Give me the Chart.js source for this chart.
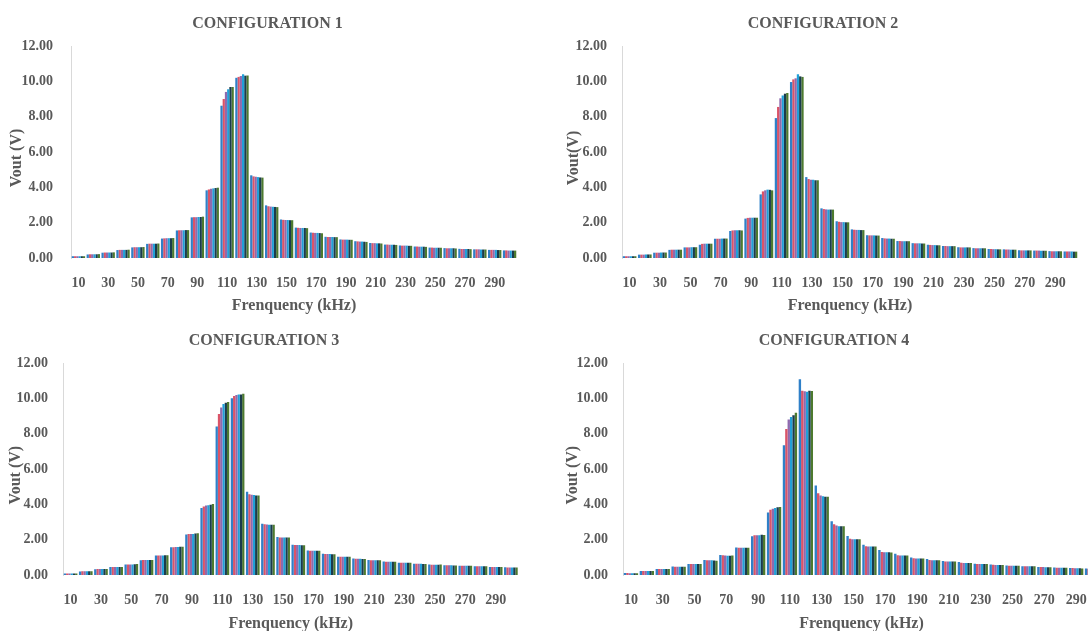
<!DOCTYPE html>
<html>
<head>
<meta charset="utf-8">
<script src="https://cdn.jsdelivr.net/npm/chart.js@4/dist/chart.umd.min.js"></script>
<style>
  html, body { margin: 0; padding: 0; background: #fff; overflow: hidden; width: 1088px; height: 631px; }
  canvas { position: absolute; }
</style>
</head>
<body>
<canvas id="conf1" width="534" height="318" style="left:0px;top:0px"></canvas>
<canvas id="conf2" width="558" height="318" style="left:544px;top:0px"></canvas>
<canvas id="conf3" width="528" height="320" style="left:0px;top:316px"></canvas>
<canvas id="conf4" width="580" height="320" style="left:544px;top:316px"></canvas>
<script>
// frequency categories (kHz)
const freqs = ['10', '20', '30', '40', '50', '60', '70', '80', '90', '100', '110', '120', '130', '140', '150',
  '160', '170', '180', '190', '200', '210', '220', '230', '240', '250', '260', '270', '280', '290', '300']
const yTicks = [0, 2, 4, 6, 8, 10, 12]
const seriesColors = ['#2F80C8', '#DA5468', '#8E6AAE', '#21A0D8', '#1B3B4C', '#4D7A2F']

// configuration 1
const c1s1 = [0.10, 0.20, 0.30, 0.45, 0.60, 0.80, 1.10, 1.56, 2.30, 3.83, 8.62, 10.20, 4.68, 2.98, 2.18, 1.72, 1.44, 1.20, 1.05, 0.95, 0.85, 0.76, 0.71, 0.65, 0.59, 0.56, 0.52, 0.49, 0.46, 0.43]
const c1s2 = [0.10, 0.21, 0.31, 0.46, 0.61, 0.81, 1.11, 1.57, 2.31, 3.88, 9.00, 10.25, 4.62, 2.93, 2.16, 1.71, 1.43, 1.19, 1.04, 0.94, 0.84, 0.76, 0.70, 0.65, 0.59, 0.55, 0.51, 0.49, 0.46, 0.43]
const c1s3 = [0.10, 0.21, 0.31, 0.46, 0.61, 0.81, 1.12, 1.57, 2.31, 3.92, 9.40, 10.30, 4.60, 2.91, 2.15, 1.70, 1.42, 1.19, 1.04, 0.93, 0.84, 0.75, 0.70, 0.64, 0.58, 0.55, 0.51, 0.49, 0.46, 0.42]
const c1s4 = [0.10, 0.21, 0.31, 0.46, 0.61, 0.81, 1.12, 1.57, 2.32, 3.94, 9.55, 10.40, 4.58, 2.90, 2.15, 1.70, 1.42, 1.19, 1.04, 0.93, 0.83, 0.75, 0.70, 0.64, 0.58, 0.55, 0.51, 0.48, 0.46, 0.42]
const c1s5 = [0.10, 0.21, 0.31, 0.46, 0.61, 0.81, 1.12, 1.58, 2.32, 3.96, 9.68, 10.32, 4.56, 2.89, 2.14, 1.70, 1.41, 1.18, 1.03, 0.92, 0.83, 0.75, 0.69, 0.64, 0.58, 0.55, 0.51, 0.48, 0.45, 0.42]
const c1s6 = [0.10, 0.22, 0.32, 0.47, 0.62, 0.82, 1.13, 1.58, 2.34, 3.98, 9.68, 10.33, 4.55, 2.88, 2.14, 1.69, 1.40, 1.18, 1.03, 0.91, 0.82, 0.74, 0.69, 0.63, 0.58, 0.54, 0.50, 0.48, 0.45, 0.42]

// configuration 2
const c2s1 = [0.10, 0.19, 0.30, 0.46, 0.60, 0.75, 1.09, 1.53, 2.23, 3.60, 7.92, 9.96, 4.58, 2.81, 2.08, 1.62, 1.29, 1.13, 0.96, 0.84, 0.75, 0.68, 0.61, 0.56, 0.51, 0.49, 0.44, 0.42, 0.39, 0.37]
const c2s2 = [0.10, 0.19, 0.30, 0.47, 0.60, 0.80, 1.09, 1.56, 2.27, 3.77, 8.55, 10.11, 4.47, 2.77, 2.05, 1.60, 1.28, 1.11, 0.96, 0.83, 0.74, 0.68, 0.60, 0.55, 0.51, 0.48, 0.43, 0.42, 0.38, 0.37]
const c2s3 = [0.10, 0.19, 0.30, 0.47, 0.60, 0.81, 1.09, 1.57, 2.28, 3.83, 9.04, 10.17, 4.43, 2.75, 2.03, 1.59, 1.28, 1.10, 0.95, 0.83, 0.73, 0.67, 0.60, 0.55, 0.50, 0.48, 0.43, 0.42, 0.38, 0.37]
const c2s4 = [0.10, 0.20, 0.31, 0.47, 0.61, 0.81, 1.10, 1.57, 2.28, 3.87, 9.20, 10.40, 4.43, 2.74, 2.03, 1.59, 1.28, 1.10, 0.95, 0.83, 0.73, 0.67, 0.60, 0.55, 0.50, 0.47, 0.43, 0.41, 0.38, 0.37]
const c2s5 = [0.10, 0.20, 0.31, 0.47, 0.61, 0.81, 1.10, 1.57, 2.28, 3.86, 9.30, 10.28, 4.40, 2.74, 2.02, 1.58, 1.27, 1.09, 0.95, 0.82, 0.72, 0.67, 0.60, 0.55, 0.49, 0.47, 0.43, 0.41, 0.38, 0.36]
const c2s6 = [0.10, 0.20, 0.31, 0.47, 0.61, 0.81, 1.10, 1.56, 2.28, 3.83, 9.34, 10.25, 4.40, 2.74, 2.02, 1.58, 1.27, 1.09, 0.95, 0.82, 0.72, 0.67, 0.60, 0.55, 0.49, 0.47, 0.43, 0.41, 0.38, 0.36]

// configuration 3
const c3s1 = [0.09, 0.20, 0.33, 0.45, 0.59, 0.84, 1.10, 1.57, 2.30, 3.80, 8.42, 10.02, 4.72, 2.90, 2.15, 1.71, 1.39, 1.20, 1.04, 0.93, 0.85, 0.76, 0.70, 0.64, 0.59, 0.55, 0.53, 0.49, 0.46, 0.44]
const c3s2 = [0.09, 0.21, 0.34, 0.45, 0.60, 0.85, 1.11, 1.58, 2.32, 3.88, 9.13, 10.15, 4.58, 2.88, 2.13, 1.70, 1.38, 1.19, 1.04, 0.92, 0.84, 0.75, 0.70, 0.64, 0.58, 0.55, 0.53, 0.49, 0.46, 0.43]
const c3s3 = [0.09, 0.21, 0.34, 0.45, 0.60, 0.85, 1.11, 1.59, 2.33, 3.94, 9.50, 10.20, 4.55, 2.86, 2.13, 1.70, 1.38, 1.19, 1.04, 0.92, 0.84, 0.75, 0.70, 0.64, 0.58, 0.55, 0.52, 0.49, 0.46, 0.43]
const c3s4 = [0.09, 0.21, 0.34, 0.45, 0.60, 0.85, 1.11, 1.59, 2.33, 3.96, 9.70, 10.23, 4.53, 2.85, 2.12, 1.70, 1.38, 1.19, 1.03, 0.92, 0.83, 0.75, 0.70, 0.64, 0.58, 0.55, 0.52, 0.49, 0.46, 0.43]
const c3s5 = [0.09, 0.21, 0.34, 0.46, 0.61, 0.85, 1.12, 1.60, 2.35, 3.98, 9.77, 10.23, 4.51, 2.85, 2.12, 1.69, 1.37, 1.18, 1.03, 0.91, 0.83, 0.75, 0.69, 0.63, 0.58, 0.54, 0.52, 0.49, 0.46, 0.43]
const c3s6 = [0.09, 0.21, 0.34, 0.46, 0.62, 0.85, 1.12, 1.60, 2.36, 4.02, 9.81, 10.28, 4.50, 2.85, 2.12, 1.69, 1.37, 1.18, 1.03, 0.91, 0.83, 0.75, 0.69, 0.63, 0.59, 0.54, 0.52, 0.49, 0.45, 0.43]

// configuration 4
const c4s1 = [0.12, 0.22, 0.34, 0.48, 0.63, 0.85, 1.13, 1.56, 2.20, 3.54, 7.36, 11.09, 5.07, 3.05, 2.21, 1.72, 1.42, 1.20, 0.99, 0.90, 0.79, 0.73, 0.64, 0.60, 0.54, 0.50, 0.45, 0.42, 0.39, 0.37]
const c4s2 = [0.11, 0.22, 0.34, 0.47, 0.62, 0.84, 1.12, 1.55, 2.25, 3.70, 8.28, 10.45, 4.64, 2.88, 2.06, 1.63, 1.31, 1.12, 0.95, 0.85, 0.77, 0.69, 0.63, 0.58, 0.53, 0.50, 0.45, 0.41, 0.39, 0.36]
const c4s3 = [0.10, 0.22, 0.34, 0.47, 0.62, 0.84, 1.10, 1.55, 2.26, 3.76, 8.82, 10.41, 4.51, 2.80, 2.03, 1.61, 1.29, 1.10, 0.94, 0.84, 0.76, 0.68, 0.62, 0.57, 0.52, 0.50, 0.45, 0.41, 0.38, 0.36]
const c4s4 = [0.10, 0.22, 0.34, 0.47, 0.62, 0.83, 1.09, 1.55, 2.25, 3.80, 8.95, 10.39, 4.46, 2.77, 2.02, 1.61, 1.29, 1.10, 0.94, 0.84, 0.76, 0.68, 0.62, 0.57, 0.52, 0.50, 0.44, 0.41, 0.38, 0.36]
const c4s5 = [0.10, 0.22, 0.34, 0.47, 0.62, 0.82, 1.09, 1.55, 2.28, 3.84, 9.06, 10.45, 4.44, 2.77, 2.02, 1.61, 1.29, 1.10, 0.94, 0.84, 0.76, 0.68, 0.62, 0.57, 0.52, 0.49, 0.44, 0.41, 0.38, 0.36]
const c4s6 = [0.10, 0.22, 0.34, 0.47, 0.62, 0.81, 1.10, 1.55, 2.27, 3.86, 9.19, 10.43, 4.44, 2.77, 2.02, 1.61, 1.28, 1.10, 0.94, 0.84, 0.76, 0.68, 0.62, 0.57, 0.52, 0.49, 0.44, 0.41, 0.37, 0.36]

const fontFamily = '"Liberation Serif", "Times New Roman", serif'
const textColor = '#595959'

function drawConfig(id, title, yTitle, series, box) {
    const datasets = series.map((vals, i) => ({
        label: 'Series ' + (i + 1),
        data: vals,
        backgroundColor: seriesColors[i],
        borderWidth: 0,
        barPercentage: 1,
        categoryPercentage: 0.9
    }))
    const cfg = {
        type: 'bar',
        data: { labels: freqs, datasets: datasets },
        options: {
            responsive: false,
            animation: false,
            layout: { padding: { left: box.padLeft, right: box.padRight, top: 0, bottom: 0 } },
            plugins: {
                legend: { display: false },
                tooltip: { enabled: false },
                title: {
                    display: true,
                    text: title,
                    color: textColor,
                    font: { family: fontFamily, size: 16, weight: 'bold' },
                    padding: { top: box.titleTop, bottom: box.titleBottom }
                }
            },
            scales: {
                x: {
                    grid: { display: false, drawTicks: false },
                    border: { display: false },
                    ticks: {
                        autoSkip: false,
                        maxRotation: 0,
                        padding: 17,
                        color: textColor,
                        font: { family: fontFamily, size: 14, weight: 'bold' },
                        callback: (v, i) => (i % 2 === 0 ? freqs[i] : '')
                    },
                    title: {
                        display: true,
                        text: 'Frenquency (kHz)',
                        color: textColor,
                        font: { family: fontFamily, size: 16, weight: 'bold' },
                        padding: { top: 0, bottom: box.xTitleBottom }
                    },
                    afterFit: s => { s.height = box.xHeight }
                },
                y: {
                    min: 0,
                    max: 12,
                    afterBuildTicks: s => { s.ticks = yTicks.map(v => ({ value: v })) },
                    grid: { display: false, drawTicks: false },
                    border: { display: true, color: '#D9D9D9', width: 1 },
                    ticks: {
                        padding: box.yTickPad,
                        color: textColor,
                        font: { family: fontFamily, size: 14, weight: 'bold' },
                        callback: v => v.toFixed(2)
                    },
                    title: {
                        display: true,
                        // trailing spaces nudge the rotated label a little below the middle, as in the original
                        text: yTitle + '   ',
                        color: textColor,
                        font: { family: fontFamily, size: 16, weight: 'bold' },
                        padding: { top: box.yTitlePad, bottom: 0 }
                    },
                    afterFit: s => { s.width = box.yWidth }
                }
            }
        }
    }
    const ctx = document.getElementById(id).getContext('2d')
    // eslint-disable-next-line no-undef
    return new Chart(ctx, cfg)
}

drawConfig('conf1', 'CONFIGURATION 1', 'Vout (V)', [c1s1, c1s2, c1s3, c1s4, c1s5, c1s6],
    { padLeft: 18, padRight: 17, titleTop: 14.4, titleBottom: 12.4, xHeight: 60, xTitleBottom: 2.5, yWidth: 53, yTickPad: 18, yTitlePad: -11 })
drawConfig('conf2', 'CONFIGURATION 2', 'Vout(V)', [c2s1, c2s2, c2s3, c2s4, c2s5, c2s6],
    { padLeft: 24, padRight: 24, titleTop: 14.4, titleBottom: 12.4, xHeight: 60, xTitleBottom: 3, yWidth: 54, yTickPad: 15, yTitlePad: -4 })
drawConfig('conf3', 'CONFIGURATION 3', 'Vout (V)', [c3s1, c3s2, c3s3, c3s4, c3s5, c3s6],
    { padLeft: 8, padRight: 8, titleTop: 15.4, titleBottom: 12.7, xHeight: 61, xTitleBottom: 2.5, yWidth: 55, yTickPad: 15, yTitlePad: -2 })
drawConfig('conf4', 'CONFIGURATION 4', 'Vout (V)', [c4s1, c4s2, c4s3, c4s4, c4s5, c4s6],
    { padLeft: 24, padRight: 24, titleTop: 15.4, titleBottom: 12.7, xHeight: 61, xTitleBottom: 2.5, yWidth: 55, yTickPad: 15, yTitlePad: -5 })
</script>
</body>
</html>
